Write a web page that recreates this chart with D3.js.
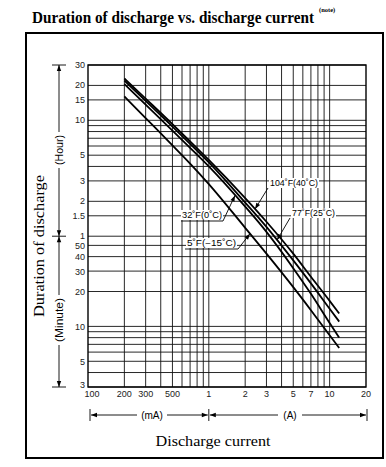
<!DOCTYPE html>
<html>
<head>
<meta charset="utf-8">
<script src="https://cdn.jsdelivr.net/npm/d3@7"></script>
<style>
body { margin: 0; background: #fff; }
</style>
</head>
<body>
<div id="chart"></div>
<script>
// discharge current (mA) where the curves were read
const currents = [200, 300, 500, 700, 1000, 2000, 3000, 5000, 7000, 10000, 12000];
// duration of discharge in minutes, one list per temperature
const dur40 = [1377, 923, 556, 395, 273, 128, 80, 42.4, 26.8, 16.6, 12.9];
const dur25 = [1323, 882, 530, 376, 260, 117, 72.2, 37.1, 23.5, 14.2, 11.0];
const dur0 = [1234, 820, 489, 347, 240, 108, 65.4, 31.8, 19.1, 10.7, 8.0];
const durM15 = [963, 627, 365, 254, 169, 70.9, 42.4, 21.8, 13.8, 8.4, 6.5];
const seriesNames = ["104˚F(40˚C)", "77˚F(25˚C)", "32˚F(0˚C)", "5˚F(−15˚C)"];
// current where each label's arrow touches its curve (mA)
const arrowAt = [2413, 3669, 1648, 2193];

const xGrid = [200, 300, 400, 500, 600, 700, 800, 900, 1000, 2000, 3000, 4000, 5000, 6000, 7000, 8000, 9000, 10000];
const xTickVals = [100, 200, 300, 500, 1000, 2000, 3000, 5000, 7000, 10000, 20000];
const xTickText = ["100", "200", "300", "500", "1", "2", "3", "5", "7", "10", "20"];
const hourTicks = [30, 20, 15, 10, 5, 3, 2, 1.5, 1];
const minuteTicks = [50, 40, 30, 20, 10, 5, 3];
const hourGrid = [30, 20, 15, 10, 9, 8, 7, 6, 5, 4, 3, 2, 1.5, 1];
const minuteGrid = [50, 40, 30, 20, 10, 9, 8, 7, 6, 5, 4, 3];

const width = 386, height = 467;
const svg = d3.select("#chart").append("svg")
    .attr("width", width)
    .attr("height", height);

const x = d3.scaleLog().domain([100, 20000]).range([88, 366]);
const y = d3.scaleLog().domain([3, 1800]).range([387, 65]);
const sans = "'Liberation Sans', Arial, sans-serif";
const serif = "'Liberation Serif', 'Times New Roman', serif";

// title (squeezed horizontally like the condensed original)
const title = svg.append("text")
    .attr("font-family", serif).attr("font-weight", "bold").attr("font-size", 16)
    .text("Duration of discharge vs. discharge current");
const tw = title.node().getComputedTextLength();
title.attr("transform", `translate(32,23) scale(${282 / tw},1)`);
svg.append("text")
    .attr("x", 319).attr("y", 12)
    .attr("font-family", serif).attr("font-weight", "bold").attr("font-size", 6.5)
    .text("(note)");

// outer frame
svg.append("rect")
    .attr("x", 26).attr("y", 33).attr("width", 357).attr("height", 425)
    .attr("fill", "none").attr("stroke", "#000").attr("stroke-width", 2);

// grid
const grid = svg.append("g").attr("stroke", "#111").attr("stroke-width", 0.9);
grid.selectAll("line.v").data(xGrid).join("line")
    .attr("x1", d => x(d)).attr("x2", d => x(d))
    .attr("y1", y(1800)).attr("y2", y(3));
const yGrid = hourGrid.map(h => h * 60).concat(minuteGrid);
grid.selectAll("line.h").data(yGrid).join("line")
    .attr("y1", d => y(d)).attr("y2", d => y(d))
    .attr("x1", x(100)).attr("x2", x(20000));
svg.append("rect")
    .attr("x", x(100)).attr("y", y(1800))
    .attr("width", x(20000) - x(100)).attr("height", y(3) - y(1800))
    .attr("fill", "none").attr("stroke", "#000").attr("stroke-width", 1.4);

// y tick labels
const yLab = svg.append("g").attr("font-family", sans).attr("font-size", 9)
    .attr("fill", "#222").attr("text-anchor", "end");
yLab.selectAll("text.h").data(hourTicks).join("text")
    .attr("x", 85).attr("y", d => y(d * 60) + 3)
    .text(d => d);
yLab.selectAll("text.m").data(minuteTicks).join("text")
    .attr("x", 85).attr("y", d => y(d) + (d === 3 ? 1 : 3.5))
    .text(d => d);

// x tick labels
svg.append("g").attr("font-family", sans).attr("font-size", 9)
    .attr("fill", "#222").attr("text-anchor", "middle")
    .selectAll("text").data(xTickVals).join("text")
    .attr("x", (d, i) => x(d) + (i === 0 ? 4 : 0)).attr("y", 397)
    .text((d, i) => xTickText[i]);

// curves
const allSeries = [dur40, dur25, dur0, durM15];
const line = d3.line()
    .x(d => x(d[0])).y(d => y(d[1]))
    .curve(d3.curveMonotoneX);
svg.append("g").selectAll("path").data(allSeries).join("path")
    .attr("d", s => line(currents.map((c, i) => [c, s[i]])))
    .attr("fill", "none").attr("stroke", "#000").attr("stroke-width", 1.8);

function arrowHead(g, tx, ty, fx, fy, len = 6, hw = 2.2) {
    const a = Math.atan2(ty - fy, tx - fx);
    const bx = tx - len * Math.cos(a), by = ty - len * Math.sin(a);
    const px = -Math.sin(a) * hw, py = Math.cos(a) * hw;
    g.append("path")
        .attr("d", `M${tx},${ty}L${bx + px},${by + py}L${bx - px},${by - py}Z`)
        .attr("fill", "#000");
}

// point on a curve (log-log interpolation)
function curveY(s, c) {
    const i = d3.bisectRight(currents, c) - 1;
    const t = (Math.log(c) - Math.log(currents[i])) / (Math.log(currents[i + 1]) - Math.log(currents[i]));
    return Math.exp(Math.log(s[i]) + t * (Math.log(s[i + 1]) - Math.log(s[i])));
}

// temperature labels with leaders
const labelSpots = [
    { tx: 270, ty: 186, w: 48, lead: [[268, 188]] },
    { tx: 292, ty: 216, w: 43, lead: [[290, 218]] },
    { tx: 182, ty: 218, w: 40, lead: [[181, 221], [223, 221]] },
    { tx: 187, ty: 246, w: 49, lead: [[185, 249], [238, 249]] }
];
const ann = svg.append("g");
labelSpots.forEach((p, i) => {
    ann.append("rect")
        .attr("x", p.tx - 1).attr("y", p.ty - 8).attr("width", p.w + 2).attr("height", 10)
        .attr("fill", "#fff");
    ann.append("text")
        .attr("x", p.tx).attr("y", p.ty)
        .attr("font-family", sans).attr("font-size", 8.5)
        .attr("textLength", p.w).attr("lengthAdjust", "spacingAndGlyphs")
        .text(seriesNames[i]);
    const tip = [x(arrowAt[i]), y(curveY(allSeries[i], arrowAt[i]))];
    const pts = p.lead.concat([tip]);
    ann.append("path")
        .attr("d", d3.line()(pts))
        .attr("fill", "none").attr("stroke", "#000").attr("stroke-width", 0.9);
    const last = pts[pts.length - 2];
    arrowHead(ann, tip[0], tip[1], last[0], last[1]);
});

// left brackets: hour and minute
const br = svg.append("g").attr("stroke", "#000").attr("stroke-width", 0.9);
const bx = 59;
[y(1800), y(60), y(3)].forEach(v => {
    br.append("line").attr("x1", bx - 7).attr("x2", bx + 7).attr("y1", v).attr("y2", v);
});
function vBracket(y0, y1, label, cy, len) {
    br.append("line").attr("x1", bx).attr("x2", bx).attr("y1", y0).attr("y2", cy - len / 2 - 3);
    br.append("line").attr("x1", bx).attr("x2", bx).attr("y1", cy + len / 2 + 3).attr("y2", y1);
    arrowHead(svg, bx, y0, bx, y0 + 10);
    arrowHead(svg, bx, y1, bx, y1 - 10);
    svg.append("text")
        .attr("transform", `translate(${bx + 3.5},${cy}) rotate(-90)`)
        .attr("text-anchor", "middle")
        .attr("font-family", sans).attr("font-size", 10)
        .attr("textLength", len).attr("lengthAdjust", "spacingAndGlyphs")
        .text(label);
}
vBracket(y(1800), y(60), "(Hour)", 150, 30);
vBracket(y(60), y(3), "(Minute)", 320, 44);

svg.append("text")
    .attr("transform", `translate(44,246) rotate(-90)`)
    .attr("text-anchor", "middle")
    .attr("font-family", serif).attr("font-size", 15)
    .attr("textLength", 142).attr("lengthAdjust", "spacingAndGlyphs")
    .text("Duration of discharge");

// bottom brackets: mA and A
const by = 415;
[x(100) + 2, x(1000), x(20000) + 1].forEach(v => {
    br.append("line").attr("x1", v).attr("x2", v).attr("y1", by - 6).attr("y2", by + 6);
});
function hBracket(x0, x1, label, cx, len) {
    br.append("line").attr("y1", by).attr("y2", by).attr("x1", x0).attr("x2", cx - len / 2 - 4);
    br.append("line").attr("y1", by).attr("y2", by).attr("x1", cx + len / 2 + 4).attr("x2", x1);
    arrowHead(svg, x0, by, x0 + 10, by);
    arrowHead(svg, x1, by, x1 - 10, by);
    svg.append("text")
        .attr("x", cx).attr("y", by + 3.5)
        .attr("text-anchor", "middle")
        .attr("font-family", sans).attr("font-size", 10)
        .text(label);
}
hBracket(x(100) + 3, x(1000) - 1, "(mA)", 152, 22);
hBracket(x(1000) + 1, x(20000), "(A)", 290, 16);

svg.append("text")
    .attr("x", 213).attr("y", 446)
    .attr("text-anchor", "middle")
    .attr("font-family", serif).attr("font-size", 14.5)
    .attr("textLength", 115).attr("lengthAdjust", "spacingAndGlyphs")
    .text("Discharge current");
</script>
</body>
</html>
